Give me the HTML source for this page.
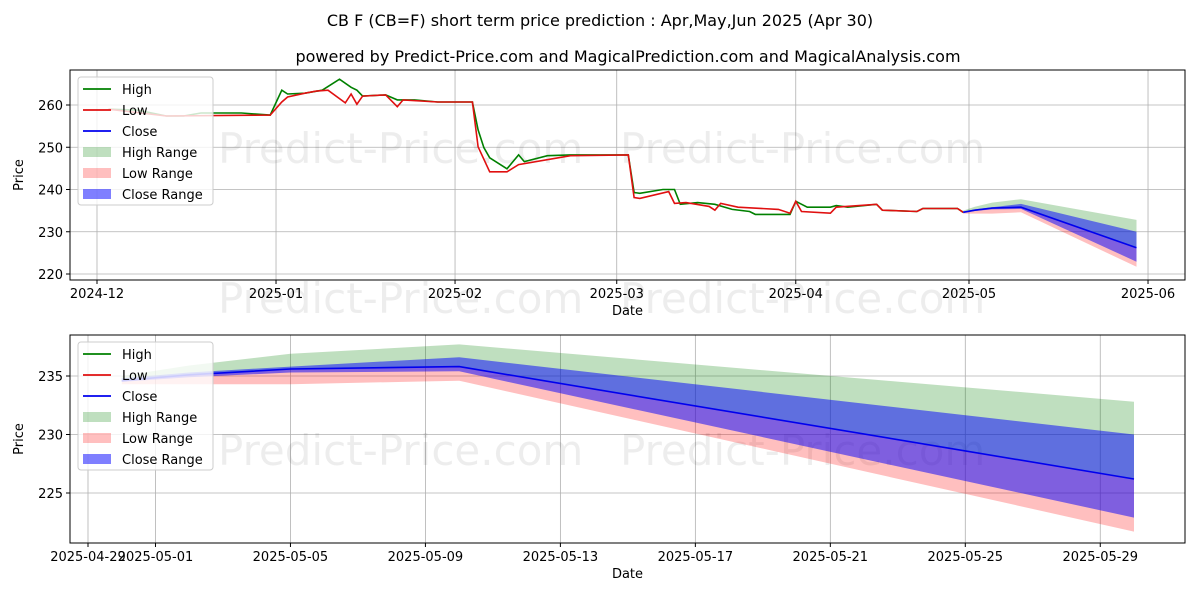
<!DOCTYPE html>
<html><head><meta charset="utf-8">
<style>
body{margin:0;background:#fff;}
svg{display:block;font-family:"DejaVu Sans","Liberation Sans",sans-serif;}
</style></head>
<body>
<svg id="c" width="1200" height="600" viewBox="0 0 1200 600" xmlns="http://www.w3.org/2000/svg">
<rect width="1200" height="600" fill="#fff"/>
<text x="600" y="26" text-anchor="middle" font-size="16">CB F (CB=F) short term price prediction : Apr,May,Jun 2025 (Apr 30)</text>
<text x="628" y="62" text-anchor="middle" font-size="16">powered by Predict-Price.com and MagicalPrediction.com and MagicalAnalysis.com</text>
<g id="top"></g>
<g id="bot"></g>
</svg>
<script>
// ---- data ----
const highDates=["2024-12-03","2024-12-08","2024-12-13","2024-12-16","2024-12-19","2024-12-26","2024-12-31","2025-01-02","2025-01-03","2025-01-06","2025-01-09","2025-01-12","2025-01-14","2025-01-15","2025-01-16","2025-01-20","2025-01-22","2025-01-25","2025-01-29","2025-02-04","2025-02-05","2025-02-06","2025-02-07","2025-02-10","2025-02-12","2025-02-13","2025-02-17","2025-02-21","2025-03-03","2025-03-04","2025-03-05","2025-03-09","2025-03-11","2025-03-12","2025-03-15","2025-03-18","2025-03-21","2025-03-24","2025-03-25","2025-03-31","2025-04-01","2025-04-03","2025-04-07","2025-04-08","2025-04-10","2025-04-15","2025-04-16","2025-04-22","2025-04-23","2025-04-29","2025-04-30"];
const highVals=[259.0,258.8,257.4,257.4,258.1,258.1,257.6,263.5,262.6,262.8,263.5,266.1,264.2,263.5,262.1,262.4,261.2,261.2,260.7,260.7,254.1,249.9,247.5,244.9,248.2,246.6,248.0,248.2,248.2,239.3,239.1,240.0,240.0,236.5,236.9,236.5,235.3,234.8,234.1,234.1,237.2,235.8,235.8,236.2,235.8,236.5,235.1,234.8,235.5,235.5,234.6];
const lowDates=["2024-12-03","2024-12-13","2024-12-31","2025-01-02","2025-01-03","2025-01-06","2025-01-08","2025-01-10","2025-01-13","2025-01-14","2025-01-15","2025-01-16","2025-01-20","2025-01-22","2025-01-23","2025-01-29","2025-02-04","2025-02-05","2025-02-07","2025-02-10","2025-02-12","2025-02-21","2025-03-03","2025-03-04","2025-03-05","2025-03-10","2025-03-11","2025-03-13","2025-03-17","2025-03-18","2025-03-19","2025-03-22","2025-03-29","2025-03-31","2025-04-01","2025-04-02","2025-04-07","2025-04-08","2025-04-15","2025-04-16","2025-04-22","2025-04-23","2025-04-29","2025-04-30"];
const lowVals=[259.0,257.4,257.6,260.7,261.9,262.8,263.3,263.5,260.5,262.6,260.2,262.1,262.4,259.6,261.2,260.7,260.7,250.1,244.2,244.2,245.9,248.0,248.2,238.1,237.9,239.5,236.7,236.9,236.0,235.1,236.7,235.8,235.3,234.4,237.2,234.8,234.4,235.8,236.5,235.1,234.8,235.5,235.5,234.6];
const fcDates=["2025-04-30","2025-05-02","2025-05-05","2025-05-10","2025-05-30"];
const fcClose=[234.6,235.1,235.6,235.8,226.2];
const highRangeUp=[235.0,235.9,236.9,237.7,232.8];
const closeRangeUp=[234.8,235.3,235.8,236.6,230.0];
const closeRangeLo=[234.5,234.9,235.3,235.4,222.9];
const lowRangeLo=[234.3,234.3,234.3,234.6,221.7];
const topXTicks=["2024-12","2025-01","2025-02","2025-03","2025-04","2025-05","2025-06"];
const topYTicks=[220,230,240,250,260];
const botXTicks=["2025-04-29","2025-05-01","2025-05-05","2025-05-09","2025-05-13","2025-05-17","2025-05-21","2025-05-25","2025-05-29"];
const botYTicks=[225,230,235];
// ---- helpers ----
const NS="http://www.w3.org/2000/svg";
function day(s){const p=s.split("-").map(Number);return Date.UTC(p[0],p[1]-1,p[2]||1)/86400000;}
function mk(parent,tag,attrs){const e=document.createElementNS(NS,tag);for(const k in attrs)e.setAttribute(k,attrs[k]);parent.appendChild(e);return e;}
function scale(d0,d1,r0,r1){return v=>r0+(v-d0)/(d1-d0)*(r1-r0);}
function pathOf(xs,ys,fx,fy){return xs.map((d,i)=>(i?"L":"M")+fx(day(d)).toFixed(1)+","+fy(ys[i]).toFixed(1)).join("");}
function bandOf(xs,up,lo,fx,fy){let p=xs.map((d,i)=>(i?"L":"M")+fx(day(d)).toFixed(1)+","+fy(up[i]).toFixed(1)).join("");for(let i=xs.length-1;i>=0;i--)p+="L"+fx(day(xs[i])).toFixed(1)+","+fy(lo[i]).toFixed(1);return p+"Z";}

function drawChart(g,L,T,R,B,fx,fy,xt,xtLab,yt,hist,wm){
  const clipId=g.id+"clip";
  const cp=mk(mk(g,"defs",{}),"clipPath",{id:clipId});mk(cp,"rect",{x:L,y:T,width:R-L,height:B-T});
  const grid=mk(g,"g",{});
  
  
  xt.forEach((t,i)=>{const x=fx(day(t));
    mk(grid,"line",{x1:x,x2:x,y1:T,y2:B,stroke:"#b0b0b0","stroke-width":0.8});
    mk(g,"line",{x1:x,x2:x,y1:B,y2:B+4,stroke:"#000"});
    const tx=mk(g,"text",{x:x,y:B+18,"text-anchor":"middle","font-size":13});tx.textContent=xtLab[i];
    
    });
  yt.forEach(v=>{const y=fy(v);
    mk(grid,"line",{x1:L,x2:R,y1:y,y2:y,stroke:"#b0b0b0","stroke-width":0.8});
    mk(g,"line",{x1:L-4,x2:L,y1:y,y2:y,stroke:"#000"});
    const tx=mk(g,"text",{x:L-7,y:y+5,"text-anchor":"end","font-size":13});tx.textContent=v;
    
    });
  wm.forEach(w=>{const t=mk(g,"text",{x:w[0],y:w[1],"font-size":42,fill:"#000","fill-opacity":0.07});t.textContent="Predict-Price.com";
    
    });
  const s=mk(g,"g",{"clip-path":"url(#"+clipId+")"});
  const b1=mk(s,"path",{d:bandOf(fcDates,highRangeUp,fcClose,fx,fy),fill:"#008000","fill-opacity":0.25});
  
  
  const b2=mk(s,"path",{d:bandOf(fcDates,fcClose,lowRangeLo,fx,fy),fill:"#ff0000","fill-opacity":0.25});
  
  
  const b3=mk(s,"path",{d:bandOf(fcDates,closeRangeUp,closeRangeLo,fx,fy),fill:"#0000ff","fill-opacity":0.5});
  
  
  if(hist){
    const h=mk(s,"path",{d:pathOf(highDates,highVals,fx,fy),fill:"none",stroke:"#008000","stroke-width":1.6});
    
    
    const l=mk(s,"path",{d:pathOf(lowDates,lowVals,fx,fy),fill:"none",stroke:"#e01010","stroke-width":1.6});
    
    
  }
  const c=mk(s,"path",{d:pathOf(fcDates,fcClose,fx,fy),fill:"none",stroke:"#0000ee","stroke-width":1.6});
  
  
  const fr=mk(g,"rect",{x:L,y:T,width:R-L,height:B-T,fill:"none",stroke:"#000","stroke-width":1});
  
  
  const xl=mk(g,"text",{x:(L+R)/2,y:B+35,"text-anchor":"middle","font-size":13});xl.textContent="Date";
  
  
  const yl=mk(g,"text",{x:0,y:0,"text-anchor":"middle","font-size":13,transform:"translate("+(L-47)+","+((T+B)/2)+") rotate(-90)"});yl.textContent="Price";
  
  
  // legend
  const lg=mk(g,"g",{});
  
  
  mk(lg,"rect",{x:L+8,y:T+7,width:135,height:128,rx:3,fill:"#fff","fill-opacity":0.8,stroke:"#ccc"});
  const items=[["High","line","#008000",1],["Low","line","#e01010",1],["Close","line","#0000ee",1],["High Range","box","#008000",0.25],["Low Range","box","#ff0000",0.25],["Close Range","box","#0000ff",0.5]];
  items.forEach((it,i)=>{const y=T+19+i*21;
    if(it[1]=="line")mk(lg,"line",{x1:L+13,x2:L+41,y1:y,y2:y,stroke:it[2],"stroke-width":1.8});
    else mk(lg,"rect",{x:L+13,y:y-5,width:28,height:10,fill:it[2],"fill-opacity":it[3]});
    const t=mk(lg,"text",{x:L+52,y:y+5,"font-size":13});t.textContent=it[0];
    
    });
}
// top chart
const tfx=scale(day("2024-12-01"),day("2025-05-01"),97,969);
const tfy=scale(220,260,274,105);
drawChart(document.getElementById("top"),70,70,1185,280,tfx,tfy,topXTicks.map(t=>t+"-01"),topXTicks,topYTicks,true,[[218,163],[620,163],[218,313],[620,313]]);
// bottom chart
const bfx=scale(day("2025-04-29"),day("2025-05-30"),88,1134);
const bfy=scale(225,235,493,376);
drawChart(document.getElementById("bot"),70,335,1185,543,bfx,bfy,botXTicks,botXTicks,botYTicks,false,[[218,465],[620,465]]);
</script>
</body></html>
